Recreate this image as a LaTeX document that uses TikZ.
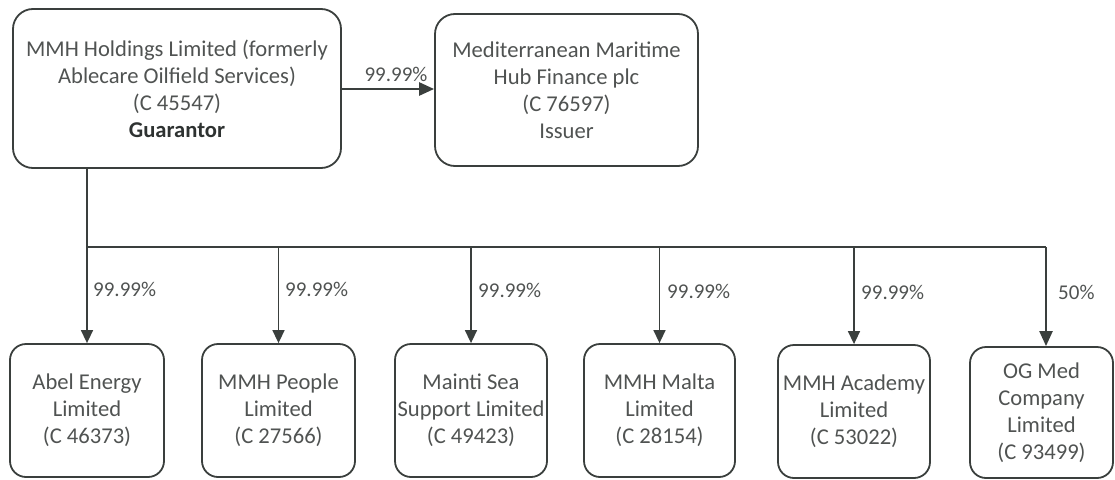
\documentclass[tikz,border=0pt]{standalone}
\usepackage{fontspec}
\setmainfont{Carlito}
\usetikzlibrary{arrows.meta}
\definecolor{ln}{HTML}{3A3F3D}
\definecolor{tx}{HTML}{505352}
\definecolor{txb}{HTML}{2E3231}
\begin{document}
\begin{tikzpicture}[x=1pt,y=-1pt,
  entity/.style={draw=ln, line width=1.8pt, rounded corners=16pt, align=center,
    text=tx, inner sep=0pt, font=\fontsize{22.6}{27}\selectfont},
  pct/.style={text=tx, inner sep=0pt, font=\fontsize{21}{24}\selectfont},
  conn/.style={draw=ln, line width=1.5pt},
  arr/.style={conn, -{Triangle[length=13pt,width=12pt]}},
  thickarr/.style={draw=ln, line width=2.6pt, -{Triangle[length=15pt,width=13pt]}}]
\useasboundingbox (0,0) rectangle (1115,479);

% top row
\node[entity, rounded corners=20pt, minimum width=328pt, minimum height=159pt] (tl) at (177,88.5)
  {MMH Holdings Limited (formerly\\Ablecare Oilfield Services)\\(C 45547)\\{\bfseries\color{txb}Guarantor}};
\node[entity, rounded corners=20pt, minimum width=263pt, minimum height=152pt] (iss) at (566.5,90)
  {Mediterranean Maritime\\Hub Finance plc\\(C 76597)\\Issuer};

\draw[thickarr] (tl.east |- 0,89) -- (iss.west |- 0,89);
\node[pct, anchor=south] (ltop) at (396,82) {99.99\%};

% bottom row
\node[entity, minimum width=154pt, minimum height=133pt] (b1) at (87,410.5)
  {Abel Energy\\Limited\\(C 46373)};
\node[entity, minimum width=153pt, minimum height=133pt] (b2) at (278.5,410.5)
  {MMH People\\Limited\\(C 27566)};
\node[entity, minimum width=152pt, minimum height=133pt] (b3) at (471,410.5)
  {Mainti Sea\\Support Limited\\(C 49423)};
\node[entity, minimum width=151pt, minimum height=133pt] (b4) at (659.5,410.5)
  {MMH Malta\\Limited\\(C 28154)};
\node[entity, minimum width=152pt, minimum height=133pt] (b5) at (854,411.5)
  {MMH Academy\\Limited\\(C 53022)};
\node[entity, minimum width=143pt, minimum height=131pt] (b6) at (1041.5,412.5)
  {OG Med\\Company\\Limited\\(C 93499)};

% bus
\coordinate (bus) at (0,247);
\coordinate (b6a) at ([xshift=4.5pt]b6.north);
\draw[conn] (b1.north |- tl.south) -- (b1.north |- bus) -- (b6a |- bus);

\draw[arr] (b1.north |- bus) -- (b1.north);
\draw[arr] (b2.north |- bus) -- (b2.north);
\draw[arr] (b3.north |- bus) -- (b3.north);
\draw[arr] (b4.north |- bus) -- (b4.north);
\draw[arr] (b5.north |- bus) -- (b5.north);
\draw[thickarr, line width=2.3pt] (b6a |- bus) -- (b6a);

\node[pct, anchor=west] (l1) at (93,289) {99.99\%};
\node[pct, anchor=west] (l2) at (285,289) {99.99\%};
\node[pct, anchor=west] (l3) at (478,290) {99.99\%};
\node[pct, anchor=west] (l4) at (667,291) {99.99\%};
\node[pct, anchor=west] (l5) at (861,292) {99.99\%};
\node[pct, anchor=west] (l6) at (1058,292) {50\%};
\end{tikzpicture}
\end{document}
